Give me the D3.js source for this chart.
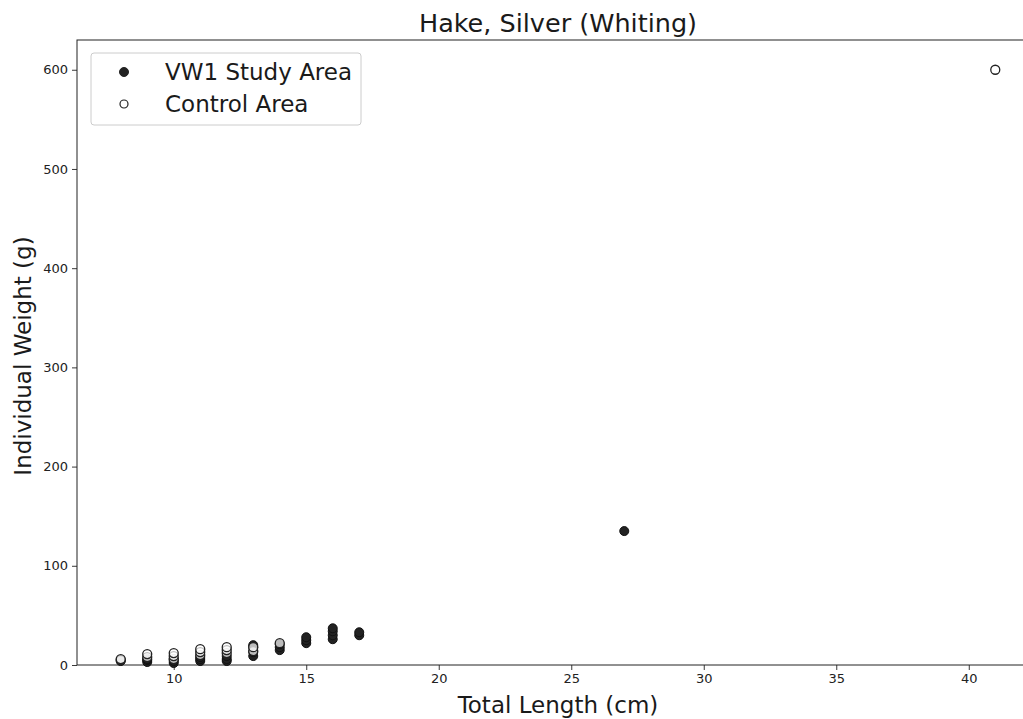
<!DOCTYPE html>
<html>
<head>
<meta charset="utf-8">
<script src="https://cdn.jsdelivr.net/npm/d3@7"></script>
<style>
  html, body { margin: 0; padding: 0; background: #fff; }
  svg { display: block; font-family: "DejaVu Sans", sans-serif; }
</style>
</head>
<body>
<svg id="chart" width="1023" height="719"></svg>
<script>
// Silver hake length/weight samples by area
const studyLength  = [8, 9, 9, 9, 10, 10, 10, 11, 11, 11, 12, 12, 12, 13, 13, 13, 13, 14, 14, 14, 15, 15, 15, 16, 16, 16, 16, 17, 17, 27];
const studyWeight  = [4, 3, 5, 6, 2, 4, 6, 4, 6, 8, 4, 6, 9, 9, 13, 18, 20, 15, 18, 21, 22, 25, 28, 26, 30, 34, 37, 30, 33, 135];
const controlLength = [8, 8, 9, 9, 10, 10, 10, 11, 11, 11, 12, 12, 12, 13, 13, 14, 41];
const controlWeight = [5, 6, 8, 11, 6, 9, 12, 10, 13, 16, 12, 15, 18, 14, 18, 22, 600];
const xTicks = [10, 15, 20, 25, 30, 35, 40];
const yTicks = [0, 100, 200, 300, 400, 500, 600];
const seriesNames = ["VW1 Study Area", "Control Area"];

const svg = d3.select("#chart");
const plot = { left: 77, right: 1039, top: 40, bottom: 665 };

const x = d3.scaleLinear().domain([6.35, 42.65]).range([plot.left, plot.right]);
const y = d3.scaleLinear().domain([0, 630]).range([plot.bottom, plot.top]);

// Axes
const xAxis = svg.append("g")
  .attr("transform", `translate(0,${plot.bottom})`)
  .call(d3.axisBottom(x).tickValues(xTicks).tickSize(5).tickPadding(4).tickFormat(d3.format("d")));
const yAxis = svg.append("g")
  .attr("transform", `translate(${plot.left},0)`)
  .call(d3.axisLeft(y).tickValues(yTicks).tickSize(5).tickPadding(4).tickFormat(d3.format("d")));
[xAxis, yAxis].forEach(g => {
  g.select(".domain").remove();
  g.selectAll("line").attr("stroke", "#222").attr("stroke-width", 0.9);
  g.selectAll("text").attr("font-size", 13).attr("fill", "#222")
    .attr("font-family", "DejaVu Sans, sans-serif");
});

// Spines (right edge lies past the canvas)
svg.append("rect")
  .attr("x", plot.left).attr("y", plot.top)
  .attr("width", plot.right - plot.left).attr("height", plot.bottom - plot.top)
  .attr("fill", "none").attr("stroke", "#222").attr("stroke-width", 1);

// Points
const r = 4.5;
svg.append("g").selectAll("circle")
  .data(d3.zip(studyLength, studyWeight))
  .join("circle")
  .attr("cx", d => x(d[0])).attr("cy", d => y(d[1])).attr("r", r)
  .attr("fill", "#222").attr("stroke", "#111").attr("stroke-width", 1);

svg.append("g").selectAll("circle")
  .data(d3.zip(controlLength, controlWeight))
  .join("circle")
  .attr("cx", d => x(d[0])).attr("cy", d => y(d[1])).attr("r", r)
  .attr("fill", "#fff").attr("fill-opacity", 0.7).attr("stroke", "#222").attr("stroke-width", 1.3);

// Title and axis labels
svg.append("text").attr("x", 558).attr("y", 32)
  .attr("text-anchor", "middle").attr("font-size", 25.5).attr("fill", "#1a1a1a")
  .text("Hake, Silver (Whiting)");
svg.append("text").attr("x", 558).attr("y", 713)
  .attr("text-anchor", "middle").attr("font-size", 23).attr("fill", "#1a1a1a")
  .text("Total Length (cm)");
svg.append("text")
  .attr("transform", `translate(31,356) rotate(-90)`)
  .attr("text-anchor", "middle").attr("font-size", 23).attr("fill", "#1a1a1a")
  .text("Individual Weight (g)");

// Legend
const legend = svg.append("g");
legend.append("rect")
  .attr("x", 91).attr("y", 53).attr("width", 270).attr("height", 72).attr("rx", 3)
  .attr("fill", "#fff").attr("fill-opacity", 0.8).attr("stroke", "#ccc").attr("stroke-width", 1);
seriesNames.forEach((name, i) => {
  const cy = 72 + i * 32;
  legend.append("circle").attr("cx", 124).attr("cy", cy).attr("r", i === 0 ? 4.5 : 4)
    .attr("fill", i === 0 ? "#222" : "#fff")
    .attr("stroke", "#222").attr("stroke-width", i === 0 ? 1 : 1.2);
  legend.append("text").attr("x", 165).attr("y", cy + 8)
    .attr("font-size", 23).attr("fill", "#1a1a1a").text(name);
});
</script>
</body>
</html>
